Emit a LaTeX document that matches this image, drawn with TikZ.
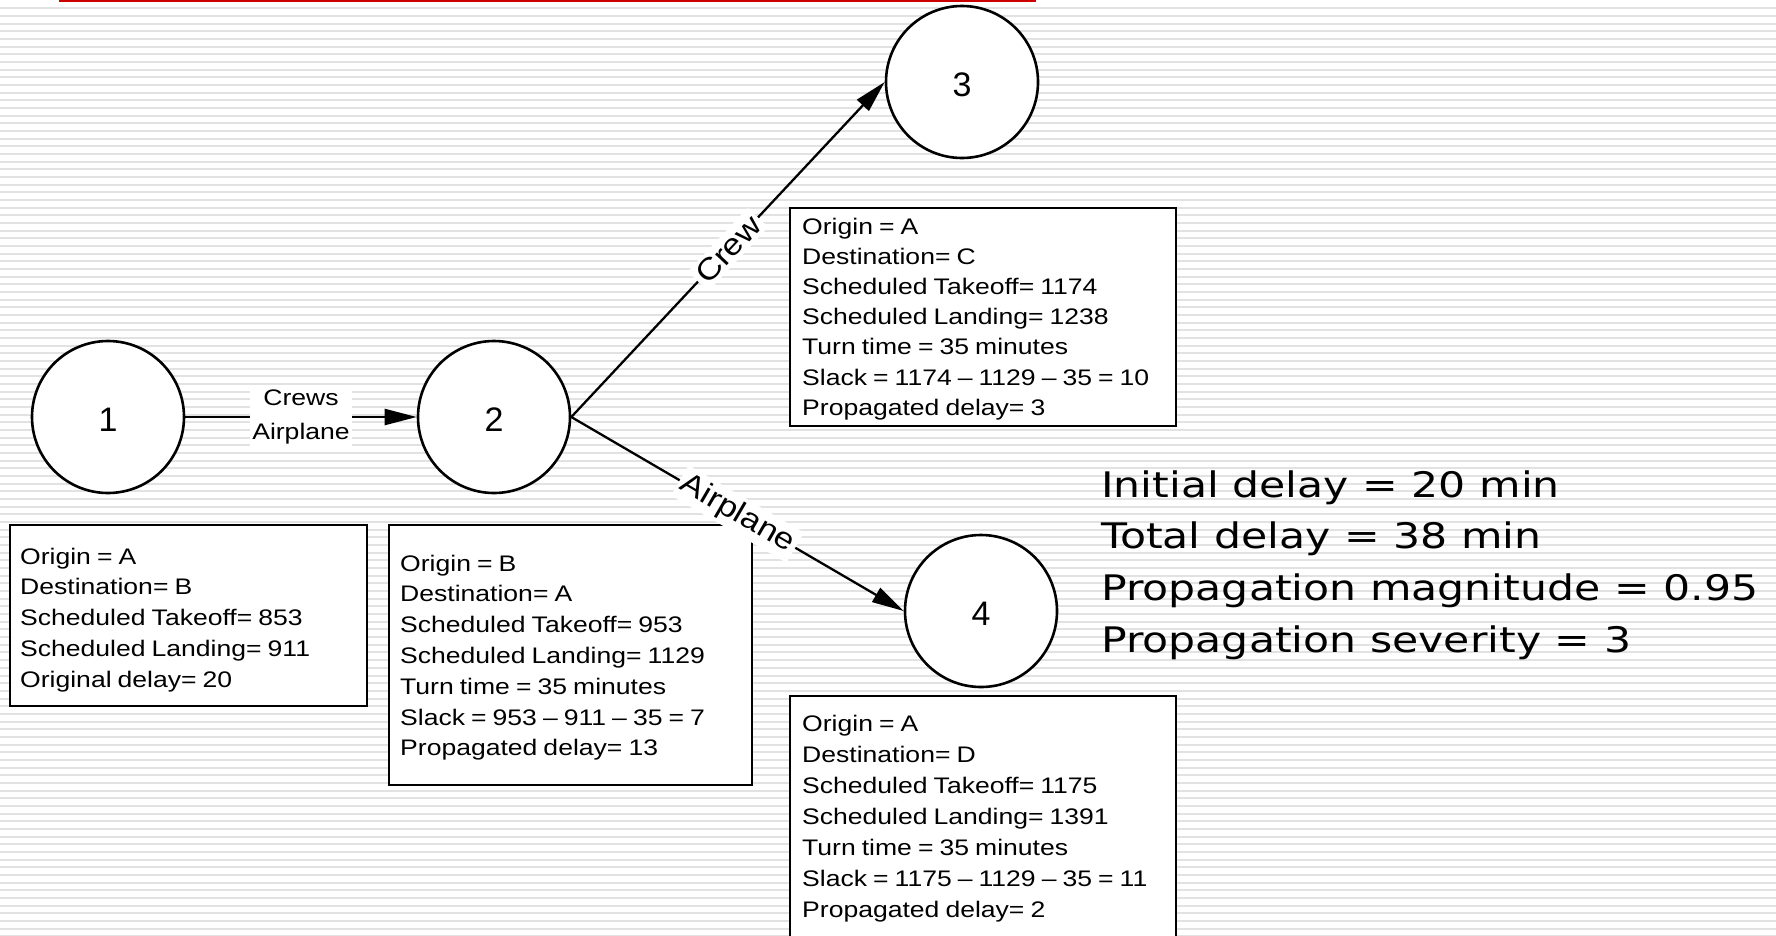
\documentclass[tikz,border=0pt]{standalone}
\usepackage{fontspec}
\setmainfont{Liberation Sans}
\newfontfamily\boxfont[FakeStretch=1.18,WordSpace=0.82]{Liberation Sans}
\newfontfamily\labfont[FakeStretch=1.15]{Liberation Sans}
\newfontfamily\numfont{Liberation Sans}
\newfontfamily\statfont[FakeStretch=1.21]{DejaVu Sans}
\usetikzlibrary{arrows.meta}
\definecolor{titlered}{RGB}{204,0,0}
\definecolor{stripegray}{RGB}{226,226,226}
\begin{document}
\begin{tikzpicture}[x=1pt,y=-1pt,
  statenode/.style={circle, draw=black, line width=2.6pt, fill=white,
    minimum size=152pt, inner sep=0pt, text height=28.5pt, text depth=0pt,
    font=\numfont\fontsize{34}{34}\selectfont},
  infobox/.style={draw=black, line width=1.6pt, fill=white, inner sep=0pt,
    anchor=north west},
  infotext/.style={anchor=base west, inner sep=0pt},
  flow/.style={line width=2.3pt, -{Triangle[length=32pt,width=16pt]}},
  flowlabel/.style={fill=white, inner sep=2.5pt,
    font=\boxfont\fontsize{22.5}{34}\selectfont},
  slopelabel/.style={fill=white, inner sep=3.5pt, sloped,
    font=\labfont\fontsize{30}{30}\selectfont},
  stattext/.style={anchor=base west, inner sep=0pt,
    font=\statfont\fontsize{35.2}{51.7}\selectfont}
]
\useasboundingbox (0,0) rectangle (1776,935);
\clip (0,0) rectangle (1776,935);
% background
\fill[white] (0,0) rectangle (1776,935);
\foreach \i in {0,...,121}{
  \draw[stripegray, line width=2pt] (0,{8.2+7.67*\i}) -- (1776,{8.2+7.67*\i});
}
\fill[titlered] (59,0) rectangle (1036,2);

% info boxes
\node[infobox, minimum width=357pt, minimum height=181pt] (b1) at (9,524) {};
\node[infobox, minimum width=363pt, minimum height=260pt] (b2) at (388,524) {};
\node[infobox, minimum width=386pt, minimum height=218pt] (b3) at (789,207) {};
\node[infobox, minimum width=386pt, minimum height=250pt] (b4) at (789,695) {};

\node[infotext, font=\boxfont\fontsize{22.5}{30.8}\selectfont] (t1) at (20,564)
  {\begin{tabular}[t]{@{}l@{}}Origin = A\\Destination= B\\Scheduled Takeoff= 853\\Scheduled Landing= 911\\Original delay= 20\end{tabular}};
\node[infotext, font=\boxfont\fontsize{22.5}{30.8}\selectfont] (t2) at (400,571)
  {\begin{tabular}[t]{@{}l@{}}Origin = B\\Destination= A\\Scheduled Takeoff= 953\\Scheduled Landing= 1129\\Turn time = 35 minutes\\Slack = 953 – 911 – 35 = 7\\Propagated delay= 13\end{tabular}};
\node[infotext, font=\boxfont\fontsize{22.5}{30.2}\selectfont] (t3) at (802,234)
  {\begin{tabular}[t]{@{}l@{}}Origin = A\\Destination= C\\Scheduled Takeoff= 1174\\Scheduled Landing= 1238\\Turn time = 35 minutes\\Slack = 1174 – 1129 – 35 = 10\\Propagated delay= 3\end{tabular}};
\node[infotext, font=\boxfont\fontsize{22.5}{31}\selectfont] (t4) at (802,731)
  {\begin{tabular}[t]{@{}l@{}}Origin = A\\Destination= D\\Scheduled Takeoff= 1175\\Scheduled Landing= 1391\\Turn time = 35 minutes\\Slack = 1175 – 1129 – 35 = 11\\Propagated delay= 2\end{tabular}};

% states
\node[statenode] (c1) at (108,417) {1};
\node[statenode] (c2) at (494,417) {2};
\node[statenode] (c3) at (962,82) {3};
\node[statenode] (c4) at (981,611) {4};

% connectors
\draw[flow] (c1) -- node[flowlabel, align=center] (l12) {Crews\\Airplane} (c2);
\draw[flow] (c2.east) -- node[slopelabel] (l23) {Crew} (c3.west);
\draw[flow] (c2.east) -- node[slopelabel] (l24) {Airplane} (c4.west);

% summary
\node[stattext] (stats) at (1101,497)
  {\begin{tabular}[t]{@{}l@{}}Initial delay = 20 min\\Total delay = 38 min\\Propagation magnitude = 0.95\\Propagation severity = 3\end{tabular}};
\end{tikzpicture}
\end{document}
